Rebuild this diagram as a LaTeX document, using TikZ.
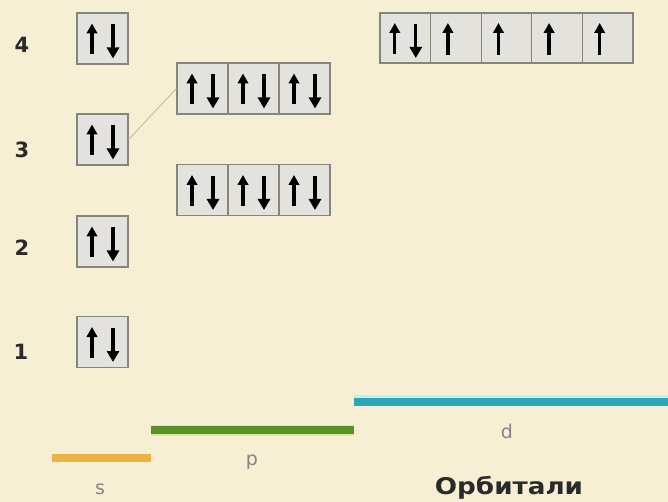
\documentclass[tikz,border=0pt]{standalone}
\usepackage{fontspec}
\setmainfont{DejaVu Sans}
\usetikzlibrary{arrows.meta}
\definecolor{bg}{HTML}{F7EFD3}
\definecolor{boxfill}{HTML}{E4E2DC}
\definecolor{boxline}{HTML}{85857A}
\definecolor{linkcol}{HTML}{C9BC96}
\definecolor{sbar}{HTML}{EDB245}
\definecolor{pbar}{HTML}{5A9024}
\definecolor{pglow}{HTML}{D4EE96}
\definecolor{dbar}{HTML}{2BA6B6}
\definecolor{dglow}{HTML}{C2F0EE}
\definecolor{numcol}{HTML}{2A2A2A}
\definecolor{lblcol}{HTML}{858585}
\tikzset{
  orb/.style={draw=boxline, fill=boxfill, line width=1.2pt, inner sep=0pt,
              minimum width=51pt, minimum height=51pt},
  dorb/.style={orb, minimum width=50.6pt, minimum height=50pt},
  spinup/.style={line width=3.3pt, -{Triangle[length=10pt,width=10.5pt]}},
  spindown/.style={line width=3.3pt, -{Triangle[length=11pt,width=12pt]}},
  num/.style={font=\bfseries\fontsize{21}{21}\selectfont, text=numcol},
  sub/.style={font=\fontsize{19}{19}\selectfont, text=lblcol},
  bar/.style={line width=7.5pt},
  link/.style={draw=linkcol, line width=0.9pt}
}
\newcommand{\updown}[1]{%
  \draw[spinup] ([shift={(-10.5,16)}]#1.center) -- ([shift={(-10.5,-15)}]#1.center);
  \draw[spindown] ([shift={(10.5,-14)}]#1.center) -- ([shift={(10.5,20)}]#1.center);}
\newcommand{\uponly}[1]{%
  \draw[spinup] ([shift={(-8,17)}]#1.center) -- ([shift={(-8,-15)}]#1.center);}
\begin{document}
\begin{tikzpicture}[x=1pt,y=-1pt]
\fill[bg] (0,0) rectangle (668,502);
\useasboundingbox (0,0) rectangle (668,502);
% level numbers
\node[num] (n4) at (22,45) {4};
\node[num] (n3) at (22,150) {3};
\node[num] (n2) at (22,248) {2};
\node[num] (n1) at (21,352) {1};
% s orbitals
\node[orb] (s4) at (102.5,38.5) {};
\node[orb] (s3) at (102.5,139.5) {};
\node[orb] (s2) at (102.5,241.5) {};
\node[orb] (s1) at (102.5,342) {};
% p orbitals (upper row)
\node[orb] (pa1) at (202.5,88.5) {};
\node[orb] (pa2) at (253.5,88.5) {};
\node[orb] (pa3) at (304.5,88.5) {};
% p orbitals (lower row)
\node[orb] (pb1) at (202.5,190) {};
\node[orb] (pb2) at (253.5,190) {};
\node[orb] (pb3) at (304.5,190) {};
% d orbitals
\node[dorb] (d1) at (405.3,38) {};
\node[dorb] (d2) at (455.9,38) {};
\node[dorb] (d3) at (506.5,38) {};
\node[dorb] (d4) at (557.1,38) {};
\node[dorb] (d5) at (607.7,38) {};
% spins
\updown{s4}\updown{s3}\updown{s2}\updown{s1}
\updown{pa1}\updown{pa2}\updown{pa3}
\updown{pb1}\updown{pb2}\updown{pb3}
\updown{d1}\uponly{d2}\uponly{d3}\uponly{d4}\uponly{d5}
% link
\draw[link] (s3.east) -- (pa1.west);
% orbital bars
\coordinate (sL) at (52,458); \coordinate (sR) at (151,458);
\coordinate (pL) at (151,430); \coordinate (pR) at (354,430);
\coordinate (dL) at (354,402); \coordinate (dR) at (668,402);
\draw[line width=11pt, pglow] (pL) -- (pR);
\draw[line width=3pt, dglow] ([yshift=6pt]dL) -- ([yshift=6pt]dR);
\draw[bar, sbar] (sL) -- (sR);
\draw[bar, pbar] (pL) -- (pR);
\draw[bar, dbar] (dL) -- (dR);
\node[sub] (ls) at (100,489) {s};
\node[sub] (lp) at (252,462) {p};
\node[sub] (ld) at (507,431) {d};
\node[font=\bfseries\fontsize{23}{23}\selectfont, text=numcol] (orb) at (509,488) {\scalebox{1.14}[1]{Орбитали}};
\end{tikzpicture}
\end{document}
